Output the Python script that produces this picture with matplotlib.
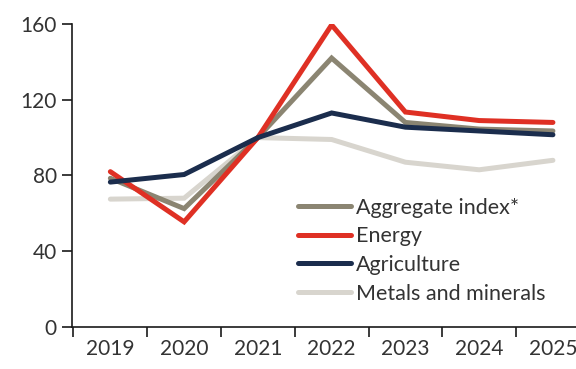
import numpy as np
import matplotlib.pyplot as plt
import matplotlib as mpl
from matplotlib.ticker import FixedLocator

mpl.rcParams.update({
    "font.family": ["Lato", "DejaVu Sans"],
    "font.weight": "normal",
})

years = ['2019', '2020', '2021', '2022', '2023', '2024', '2025']
aggregate = [78.5, 62.5, 100, 142, 108, 104.5, 103.5]
energy = [82, 55.5, 100, 159.5, 113.5, 109, 108]
agriculture = [76.5, 80.5, 100, 113, 105.5, 103.5, 101.5]
metals = [67.5, 68, 100, 99, 87, 83, 88]

labels = ['Aggregate index*', 'Energy', 'Agriculture', 'Metals and minerals']
colors = ['#8b8572', '#df3024', '#1b2d4d', '#d8d5ce']

fig = plt.figure(figsize=(5.76, 3.69), dpi=100)
ax = fig.add_axes([0.125, 0.114, 0.89, 0.821])

x = np.arange(len(years))
series = [aggregate, energy, agriculture, metals]
# draw metals first so the darker lines sit on top
order = [3, 0, 1, 2]
handles = {}
for i in order:
    h, = ax.plot(x, series[i], color=colors[i], linewidth=3.6,
                 solid_capstyle='round', solid_joinstyle='miter', label=labels[i])
    handles[i] = h

ax.set_ylim(0, 160)
ax.set_xlim(-0.52, 6.43)
ax.set_yticks([0, 40, 80, 120, 160])
ax.set_xticks(x)
ax.set_xticklabels(years)
ax.xaxis.set_minor_locator(FixedLocator(np.arange(-0.5, 6.6, 1.0)))

for s in ['top', 'right']:
    ax.spines[s].set_visible(False)
for s in ['left', 'bottom']:
    ax.spines[s].set_linewidth(1.2)
    ax.spines[s].set_color('#1a1a1a')

ax.tick_params(axis='y', which='major', length=7, width=1.2, labelsize=15,
               labelcolor='#333333', color='#1a1a1a', pad=4)
ax.tick_params(axis='x', which='major', length=0, labelsize=15,
               labelcolor='#333333', pad=9)
ax.tick_params(axis='x', which='minor', length=7, width=1.2, color='#1a1a1a')

leg = ax.legend([handles[i] for i in range(4)], labels, loc='upper left',
                bbox_to_anchor=(0.425, 0.455), frameon=False, fontsize=15.5,
                handlelength=2.45, handletextpad=0.2, labelspacing=0.4,
                borderaxespad=0)
for t in leg.get_texts():
    t.set_color('#333333')

plt.savefig('out.png', dpi=100)
plt.close()
